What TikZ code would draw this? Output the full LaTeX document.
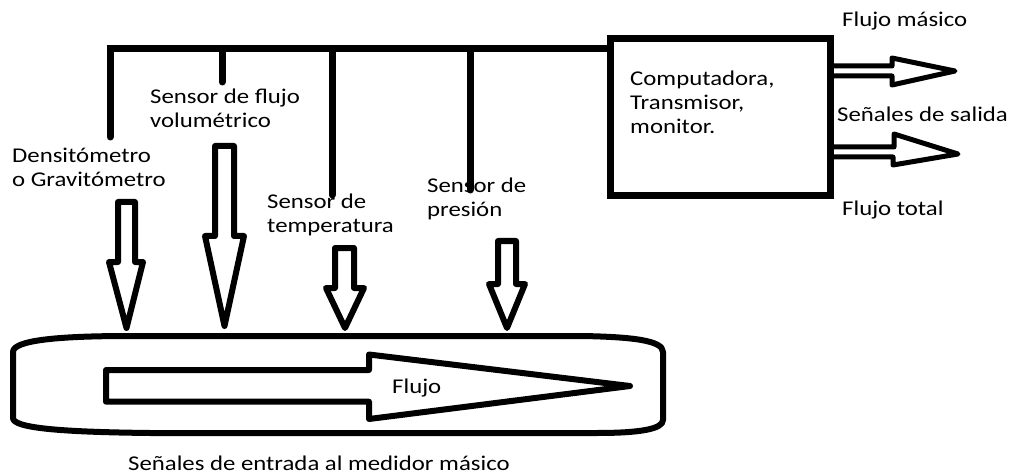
\documentclass[tikz,border=0pt]{standalone}
\usepackage{fontspec}
\setmainfont{Carlito}[FakeStretch=1.18]
\begin{document}
\begin{tikzpicture}[x=1pt,y=-1pt,
  lbl/.style={font=\fontsize{21}{24}\selectfont, inner sep=0pt, anchor=base west, align=left},
  bus/.style={line width=7pt, line cap=round, line join=miter},
  hollow/.style={line width=6pt, line join=round, fill=white},
  outarr/.style={line width=5pt, line join=round},
  pipe/.style={line width=6pt, line join=round}]
\useasboundingbox (0,0) rectangle (1013,476);

% labels (base anchor = baseline of last line)
\node[lbl] (dens) at (12,186) {Densitómetro\\o Gravitómetro};
\node[lbl] (vol) at (150,128) {Sensor de flujo\\volumétrico};
\node[lbl] (temp) at (267,233) {Sensor de\\temperatura};
\node[lbl] (pres) at (427,216) {Sensor de\\presión};
\node[lbl] (fmas) at (842,27) {Flujo másico};
\node[lbl] (sal) at (837,122) {Señales de salida};
\node[lbl] (ftot) at (842,215) {Flujo total};
\node[lbl] (flujo) at (392,393) {Flujo};
\node[lbl] (entrada) at (128,470) {Señales de entrada al medidor másico};

% computer box
\node[draw, line width=7pt, minimum width=220pt, minimum height=157pt, inner sep=0pt] (comp) at (720,117.5) {};
\node[lbl] (comptext) at (630,134) {Computadora,\\Transmisor,\\monitor.};

% bus
\coordinate (densEnd) at (110,137);
\coordinate (volEnd) at (222,82);
\coordinate (tempEnd) at (332,195);
\coordinate (presEnd) at (470,190);
\coordinate (volTop) at (222,49);
\coordinate (tempTop) at (332,49);
\coordinate (presTop) at (470,49);
\coordinate (compIn) at (comp.west |- 0,49);
\draw[bus] (densEnd) -- (110,49) -- (compIn);
\draw[bus] (volTop) -- (volEnd);
\draw[bus] (tempTop) -- (tempEnd);
\draw[bus] (presTop) -- (presEnd);

% sensor arrows
\draw[hollow] (118,202) -- (135,202) -- (135,262) -- (143,262) -- (126.5,328) -- (109,262) -- (118,262) -- cycle;
\draw[hollow] (215,146) -- (234,146) -- (234,236) -- (244,236) -- (224.5,326) -- (205,236) -- (215,236) -- cycle;
\draw[hollow] (335,248) -- (354,248) -- (354,288) -- (364,288) -- (345,328) -- (326,288) -- (335,288) -- cycle;
\draw[hollow] (498,241) -- (516,241) -- (516,284) -- (525,284) -- (507,328) -- (489,284) -- (498,284) -- cycle;

% pipe
\draw[pipe] (130,336) -- (583,336) .. controls (630,337) and (663,340) .. (663,352)
  -- (663,420) .. controls (663,429) and (640,433) .. (597,433)
  -- (150,433) .. controls (60,432) and (13,428) .. (13,418)
  -- (13,352) .. controls (13,340) and (60,336) .. (130,336) -- cycle;

% flow arrow
\draw[pipe] (106,370) -- (369,370) -- (369,354.5) -- (630,386) -- (369,419) -- (369,401.7) -- (106,401.7) -- cycle;

% output arrows
\draw[outarr] (comp.east |- 0,66) -- (892,66) -- (892,58) -- (955,71) -- (892,85) -- (892,76) -- (comp.east |- 0,76);
\draw[outarr] (comp.east |- 0,147) -- (894,147) -- (894,134) -- (958,154) -- (893,165) -- (893,157) -- (comp.east |- 0,157);
\end{tikzpicture}
\end{document}
